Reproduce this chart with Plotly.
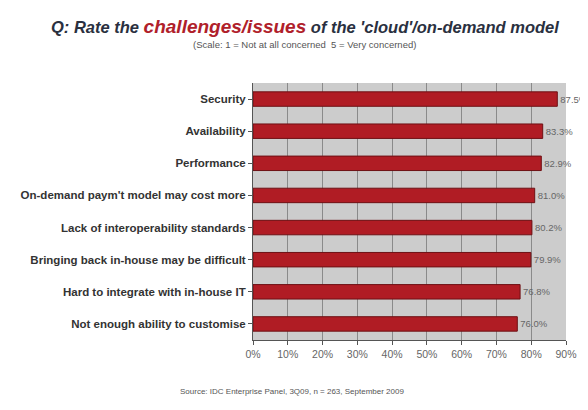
import plotly.graph_objects as go

categories = [
    "Security",
    "Availability",
    "Performance",
    "On-demand paym't model may cost more",
    "Lack of interoperability standards",
    "Bringing back in-house may be difficult",
    "Hard to integrate with in-house IT",
    "Not enough ability to customise",
]
values = [87.5, 83.3, 82.9, 81.0, 80.2, 79.9, 76.8, 76.0]
tick_vals = [0, 10, 20, 30, 40, 50, 60, 70, 80, 90]
tick_text = [f"{v}%" for v in tick_vals]

fig = go.Figure()
fig.add_trace(go.Bar(
    y=categories,
    x=values,
    orientation="h",
    width=0.45,
    marker=dict(color="#b01c24", line=dict(color="#6e1014", width=1)),
    text=[f"{v:.1f}%" for v in values],
    textposition="outside",
    cliponaxis=False,
    textfont=dict(family="Liberation Sans, Arial", size=9.5, color="#666666"),
))

fig.update_layout(
    width=588, height=410,
    margin=dict(l=245, r=30, t=75, b=78),
    paper_bgcolor="white",
    plot_bgcolor="#cccccc",
    showlegend=False,
    font=dict(family="Liberation Sans, Arial", color="#333333"),
    xaxis=dict(
        range=[0, 90], tickvals=tick_vals, ticktext=tick_text,
        showgrid=True, gridcolor="#8a8a8a", gridwidth=1,
        zeroline=False, showline=True, linecolor="#555555",
        ticks="outside", ticklen=4, tickcolor="#555555",
        tickfont=dict(size=10.5, color="#666666"),
        automargin=False,
    ),
    yaxis=dict(
        autorange="reversed", showgrid=False,
        showline=True, linecolor="#555555",
        ticks="outside", ticklen=4, tickcolor="#555555",
        tickfont=dict(size=11.5, color="#333333", family="Liberation Sans, Arial", weight="bold"),
        automargin=False,
    ),
    bargap=0.55,
)

fig.add_annotation(
    xref="paper", yref="paper", x=0.166, y=1.218, xanchor="center", yanchor="middle",
    text="<b><i>Q: Rate the <span style='color:#b0202a;font-size:19px'>challenges/issues</span> of the 'cloud'/on-demand model</i></b>",
    showarrow=False, font=dict(size=16.5, color="#2a3040"),
)
fig.add_annotation(
    xref="paper", yref="paper", x=0.166, y=1.148, xanchor="center", yanchor="middle",
    text="(Scale: 1 = Not at all concerned  5 = Very concerned)",
    showarrow=False, font=dict(size=9.5, color="#555555"),
)
fig.add_annotation(
    xref="paper", yref="paper", x=0.125, y=-0.202, xanchor="center", yanchor="middle",
    text="Source: IDC Enterprise Panel, 3Q09, n = 263, September 2009",
    showarrow=False, font=dict(size=8, color="#555555"),
)

fig.write_html("out.html")
